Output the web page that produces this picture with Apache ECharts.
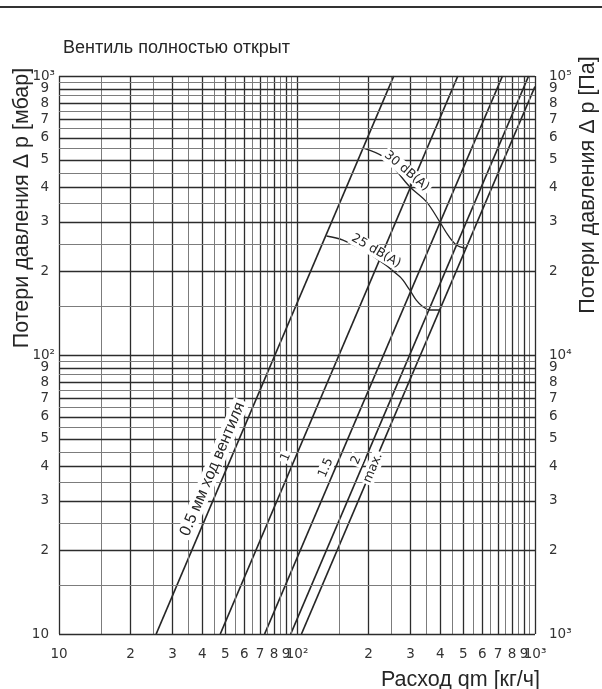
<!DOCTYPE html>
<html>
<head>
<meta charset="utf-8">
<script src="https://cdn.jsdelivr.net/npm/echarts@6/dist/echarts.min.js"></script>
<style>
html, body { margin: 0; padding: 0; background: #fff; }
#chart { width: 602px; height: 689px; }
</style>
</head>
<body>
<div id="chart"></div>
<script>
// Grid values: flow qm [kg/h] on x, pressure loss Δp [mbar] on y
const qMajor = [10, 20, 30, 40, 50, 60, 70, 80, 90, 100, 200, 300, 400, 500, 600, 700, 800, 900, 1000];
const qMinor = [15, 25, 35, 45, 55, 65, 75, 85, 95, 150, 250, 350, 450, 550, 650, 750, 850, 950];
const pMajor = [10, 20, 30, 40, 50, 60, 70, 80, 90, 100, 200, 300, 400, 500, 600, 700, 800, 900, 1000];
const pMinor = [15, 25, 35, 45, 55, 65, 75, 85, 95, 150, 250, 350, 450, 550, 650, 750, 850, 950];

// Tick labels
const qTickValues = [10, 20, 30, 40, 50, 60, 70, 80, 90, 100, 200, 300, 400, 500, 600, 700, 800, 900, 1000];
const qTickLabels = ['10', '2', '3', '4', '5', '6', '7', '8', '9', '10²', '2', '3', '4', '5', '6', '7', '8', '9', '10³'];
const pTickValues = [10, 20, 30, 40, 50, 60, 70, 80, 90, 100, 200, 300, 400, 500, 600, 700, 800, 900, 1000];
const pTickLabels = ['10', '2', '3', '4', '5', '6', '7', '8', '9', '10²', '2', '3', '4', '5', '6', '7', '8', '9', '10³'];
const paTickValues = [1000, 2000, 3000, 4000, 5000, 6000, 7000, 8000, 9000, 10000, 20000, 30000, 40000, 50000, 60000, 70000, 80000, 90000, 100000];
const paTickLabels = ['10³', '2', '3', '4', '5', '6', '7', '8', '9', '10⁴', '2', '3', '4', '5', '6', '7', '8', '9', '10⁵'];

// Valve lift characteristics: [qm kg/h, Δp mbar]
const lift05 = [[25.6, 10], [255, 1000]];
const lift1 = [[47.6, 10], [474, 1000]];
const lift15 = [[73.1, 10], [730, 1000]];
const lift2 = [[94.1, 10], [940, 1000]];
const liftMax = [[104.4, 10], [1000, 917]];

// Noise limit curves: [qm kg/h, Δp mbar]
const noise30 = [[190, 551], [230, 514], [260, 460], [297.5, 401], [350, 354], [398, 300], [431, 269], [468, 248], [513, 241]];
const noise25 = [[133, 267], [156, 258], [206, 228], [270, 191], [297.6, 171], [317.6, 157], [338, 149], [361, 145], [398, 145]];

// Curve captions: [qm, Δp, text, angle in degrees, kind]
const captions = [
  [44.2, 39, '0.5 мм ход вентиля', 67, 'big'],
  [89.7, 43.1, '1', 67, 'small'],
  [132.4, 39.4, '1.5', 67, 'small'],
  [177.7, 42.05, '2', 67, 'small'],
  [208.6, 39.4, 'max.', 67, 'small'],
  [289, 456, '30 dB(A)', -40, 'small'],
  [215, 236, '25 dB(A)', -30, 'small']
];

const TICK_FONT = '"DejaVu Sans", sans-serif';
const TITLE_FONT = '"Liberation Sans", Arial, sans-serif';
const INK = '#262626';

const majorStyle = { color: '#2c2c2c', width: 1.3, type: 'solid' };
const minorStyle = { color: '#7c7c7c', width: 1, type: 'solid' };

function isPower(text) { return text.indexOf('10') === 0 && text.length > 2; }

function gridLines(axisKey, minor, major, labelValues, labelTexts, labelPos, dist, powDist) {
  const items = [];
  minor.forEach(v => items.push({ [axisKey]: v, lineStyle: minorStyle, label: { show: false } }));
  major.forEach(v => {
    const idx = labelValues.indexOf(v);
    const item = { [axisKey]: v, lineStyle: majorStyle, label: { show: false } };
    if (idx >= 0) {
      const t = labelTexts[idx];
      item.label = { show: true, formatter: t, position: labelPos, distance: isPower(t) ? powDist : dist };
    }
    items.push(item);
  });
  return items;
}

function edgeLabels(axisKey, values, texts, pos, dist) {
  return values.map((v, i) => ({
    [axisKey]: v,
    lineStyle: { color: 'rgba(0,0,0,0)', width: 1 },
    label: { show: true, formatter: texts[i], position: pos, distance: dist, color: '#333' }
  }));
}

const markBase = {
  silent: true,
  symbol: ['none', 'none'],
  animation: false,
  precision: 4,
  label: { show: false, color: '#333', fontFamily: TICK_FONT, fontSize: 13.5 },
  lineStyle: { type: 'solid' }
};

function liftSeries(name, data) {
  return {
    name: name,
    type: 'line',
    data: data,
    showSymbol: false,
    symbol: 'none',
    clip: true,
    z: 4,
    lineStyle: { color: INK, width: 1.7 }
  };
}

function noiseSeries(name, data) {
  return {
    name: name,
    type: 'line',
    data: data,
    smooth: 0.35,
    showSymbol: false,
    symbol: 'none',
    clip: true,
    z: 4,
    lineStyle: { color: INK, width: 1.3 }
  };
}

const chart = echarts.init(document.getElementById('chart'), null, { renderer: 'canvas' });

chart.setOption({
  animation: false,
  backgroundColor: '#fff',
  grid: { left: 59, top: 76, width: 476, height: 558, containLabel: false },
  xAxis: {
    type: 'log', logBase: 10, min: 10, max: 1000,
    axisLine: { show: false }, axisTick: { show: false },
    axisLabel: { show: false }, splitLine: { show: false }
  },
  yAxis: [
    {
      type: 'log', logBase: 10, min: 10, max: 1000,
      axisLine: { show: false }, axisTick: { show: false },
      axisLabel: { show: false }, splitLine: { show: false }
    },
    {
      type: 'log', logBase: 10, min: 1000, max: 100000, position: 'right',
      axisLine: { show: false }, axisTick: { show: false },
      axisLabel: { show: false }, splitLine: { show: false }
    }
  ],
  graphic: [
    { type: 'line', shape: { x1: 0, y1: 7, x2: 602, y2: 7 }, style: { stroke: '#333', lineWidth: 2 } },
    { type: 'text', x: 63, y: 48, style: { text: 'Вентиль полностью открыт', font: '18px ' + TITLE_FONT, fill: INK, textAlign: 'left', textVerticalAlign: 'middle' } },
    { type: 'text', x: 22, y: 208, rotation: Math.PI / 2, style: { text: 'Потери давления Δ p [мбар]', font: '21.5px ' + TITLE_FONT, fill: INK, textAlign: 'center', textVerticalAlign: 'middle' } },
    { type: 'text', x: 588, y: 185, rotation: Math.PI / 2, style: { text: 'Потери давления Δ p [Па]', font: '21.5px ' + TITLE_FONT, fill: INK, textAlign: 'center', textVerticalAlign: 'middle' } },
    { type: 'text', x: 540, y: 680, style: { text: 'Расход qm [кг/ч]', font: '21.5px ' + TITLE_FONT, fill: INK, textAlign: 'right', textVerticalAlign: 'middle' } }
  ],
  series: [
    {
      name: 'grid-q', type: 'line', data: [], z: 1,
      markLine: Object.assign({}, markBase, { data: gridLines('xAxis', qMinor, qMajor, qTickValues, qTickLabels, 'start', 13, 13) })
    },
    {
      name: 'grid-p', type: 'line', data: [], z: 1,
      markLine: Object.assign({}, markBase, { data: gridLines('yAxis', pMinor, pMajor, pTickValues, pTickLabels, 'start', 10, 4) })
    },
    {
      name: 'scale-pa', type: 'line', data: [], yAxisIndex: 1, z: 1,
      markLine: Object.assign({}, markBase, { data: edgeLabels('yAxis', paTickValues, paTickLabels, 'end', 14) })
    },
    liftSeries('0.5', lift05),
    liftSeries('1', lift1),
    liftSeries('1.5', lift15),
    liftSeries('2', lift2),
    liftSeries('max.', liftMax),
    noiseSeries('30 dB(A)', noise30),
    noiseSeries('25 dB(A)', noise25),
    {
      name: 'captions', type: 'custom', z: 10,
      data: captions.map(c => [c[0], c[1]]),
      encode: { x: 0, y: 1 },
      renderItem: function (params, api) {
        const c = captions[params.dataIndex];
        const pt = api.coord([api.value(0), api.value(1)]);
        const big = c[4] === 'big';
        return {
          type: 'text',
          x: pt[0],
          y: pt[1],
          rotation: c[3] * Math.PI / 180,
          style: {
            text: c[2],
            x: 0,
            y: 0,
            fill: INK,
            font: big ? ('16px ' + TITLE_FONT) : ('12.5px ' + TICK_FONT),
            align: 'center',
            verticalAlign: 'middle',
            backgroundColor: '#fff',
            padding: big ? [1, 3, 0, 3] : [1, 2, 0, 2]
          }
        };
      }
    }
  ]
});
</script>
</body>
</html>
